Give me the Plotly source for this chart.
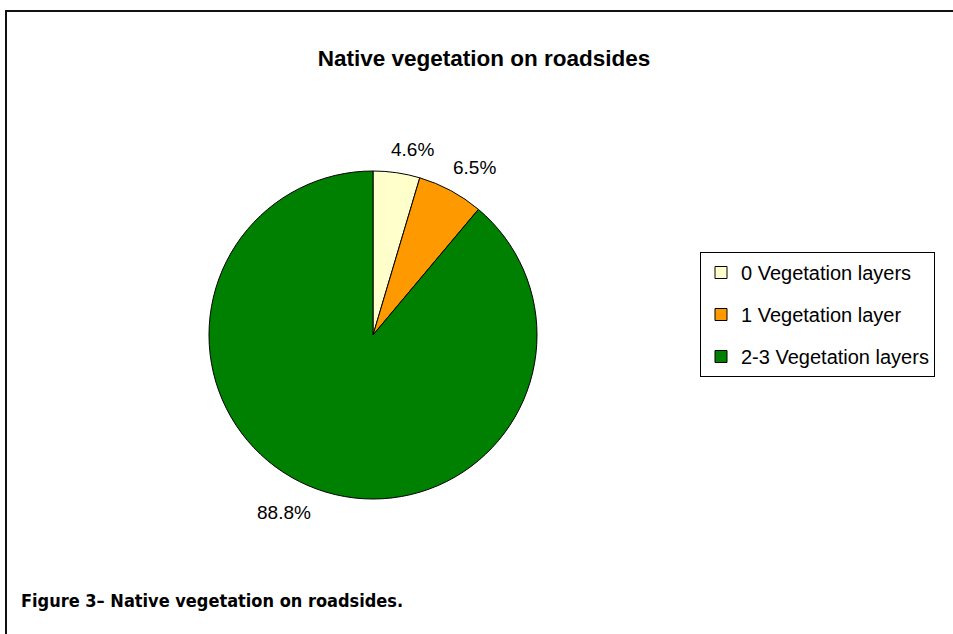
import math
import plotly.graph_objects as go

# Share of surveyed roadside sites by number of native vegetation layers
categories = ["0 Vegetation layers", "1 Vegetation layer", "2-3 Vegetation layers"]
shares = [4.6, 6.5, 88.8]
colors = ["#FFFFCC", "#FF9900", "#008000"]

W, H = 953, 634
FONT = "Liberation Sans, Arial, Helvetica, sans-serif"

# Pie placement in pixels (centre and radius)
CX, CY, R = 373, 335, 164

fig = go.Figure()

fig.add_trace(go.Pie(
    labels=categories,
    values=shares,
    sort=False,
    direction="clockwise",
    rotation=0,
    marker=dict(colors=colors, line=dict(color="#000000", width=1)),
    textinfo="none",
    showlegend=False,
    hoverinfo="label+value",
    domain=dict(x=[(CX - R) / W, (CX + R) / W], y=[1 - (CY + R) / H, 1 - (CY - R) / H]),
))

# Percentage labels just outside each slice, at the slice's mid-angle
total = sum(shares)
cum = 0.0
for v in shares:
    mid = (cum + v / 2) / total * 2 * math.pi  # clockwise from 12 o'clock
    cum += v
    px = CX + R * math.sin(mid)
    py = CY - R * math.cos(mid)
    right_side = math.sin(mid) >= 0
    upper = math.cos(mid) >= 0
    # labels close to the top are pulled back towards the vertical
    near_top = abs(math.sin(mid)) < 0.3
    fig.add_annotation(
        text=f"{v:.1f}%",
        xref="paper", yref="paper", x=px / W, y=1 - py / H,
        xanchor="left" if right_side else "right",
        yanchor="bottom" if upper else "top",
        xshift=(-8 if near_top else 0) if right_side else -4,
        yshift=11 if upper else -11,
        showarrow=False,
        font=dict(family=FONT, size=19, color="#000000"),
    )

# Legend entries, one per category
for name, col in zip(categories, colors):
    fig.add_trace(go.Scatter(
        x=[None], y=[None], mode="markers", name=name, legendgroup=name,
        marker=dict(symbol="square", size=12, color=col,
                    line=dict(color="#000000", width=1)),
    ))

fig.update_layout(
    width=W, height=H,
    margin=dict(l=0, r=0, t=0, b=0),
    paper_bgcolor="#FFFFFF",
    plot_bgcolor="#FFFFFF",
    xaxis=dict(visible=False),
    yaxis=dict(visible=False),
    title=dict(
        text="<b>Native vegetation on roadsides</b>",
        x=484 / W, y=1 - 58 / H, xanchor="center", yanchor="middle",
        font=dict(family=FONT, size=22.5, color="#000000"),
    ),
    legend=dict(
        x=700 / W, y=1 - 252 / H, xanchor="left", yanchor="top",
        bgcolor="#FFFFFF", bordercolor="#000000", borderwidth=1,
        font=dict(family=FONT, size=20, color="#000000"),
        tracegroupgap=13,
        traceorder="grouped",
    ),
    showlegend=True,
)

# Frame lines along the top and left of the page
fig.add_shape(type="line", xref="paper", yref="paper",
              x0=5 / W, x1=1, y0=1 - 11 / H, y1=1 - 11 / H,
              line=dict(color="#111111", width=2))
fig.add_shape(type="line", xref="paper", yref="paper",
              x0=6 / W, x1=6 / W, y0=0, y1=1 - 10 / H,
              line=dict(color="#111111", width=2))

# Figure caption
fig.add_annotation(
    text="<b>Figure 3\u2013 Native vegetation on roadsides.</b>",
    xref="paper", yref="paper", x=19 / W, y=1 - 600 / H,
    xanchor="left", yanchor="middle", showarrow=False,
    font=dict(family="DejaVu Sans Condensed, DejaVu Sans, sans-serif",
              size=18, color="#000000"),
)

fig.write_html("out.html")
